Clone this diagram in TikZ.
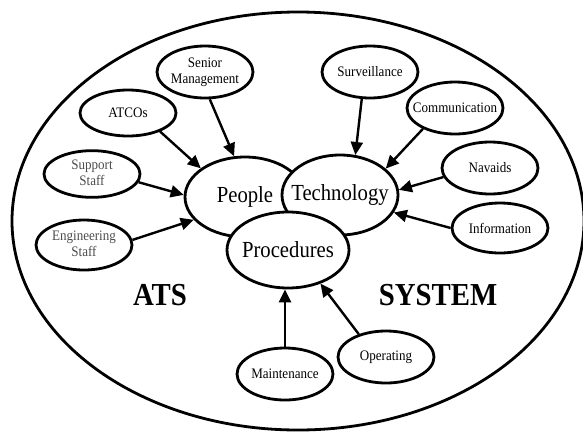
\documentclass[tikz,border=0pt]{standalone}
\usepackage{fontspec}
\setmainfont[FakeStretch=0.9]{Liberation Serif}
\usetikzlibrary{shapes.geometric,arrows.meta}

% centred label of zero width, so the ellipse keeps its own size
\newcommand{\lbl}[1]{\makebox[0pt]{#1}}
\newcommand{\twolbl}[2]{\makebox[0pt]{\begin{tabular}{@{}c@{}}#1\\#2\end{tabular}}}

\begin{document}
\begin{tikzpicture}[x=1pt,y=-1pt,
  oval/.style={ellipse,draw,line width=2.8pt,fill=white,inner sep=0pt},
  item/.style={oval,minimum width=96pt,minimum height=52pt,
    font=\fontsize{14.5}{16.5}\selectfont},
  core/.style={oval,font=\fontsize{23}{26}\selectfont},
  feed/.style={line width=2.4pt,-{Triangle[length=13pt,width=12pt]}},
  title/.style={font=\bfseries\fontsize{32}{36}\selectfont}]

\useasboundingbox (0,0) rectangle (583,432);

% the whole ATS system
\node[oval,minimum width=572pt,minimum height=418pt] (ats) at (298,221) {};

\node[title] (atsword) at (160,295) {ATS};
\node[title] (sysword) at (438,295) {SYSTEM};

% core elements
\node[core,minimum width=120pt,minimum height=80pt] (people) at (245,197) {\lbl{People}};
\node[core,minimum width=116pt,minimum height=80pt] (tech) at (340,195) {\lbl{Technology}};
\node[core,minimum width=122pt,minimum height=76pt] (proc) at (288,250) {\lbl{Procedures}};

% people
\node[item] (sm) at (205,72) {\twolbl{Senior}{Management}};
\node[item,minimum height=46pt] (atco) at (128,113) {\lbl{ATCOs}};
\node[item,minimum height=46pt,text=black!70] (supp) at (92,174) {\twolbl{Support}{Staff}};
\node[item,minimum height=50pt,text=black!70] (eng) at (84,245) {\twolbl{Engineering}{Staff}};

% technology
\node[item] (surv) at (370,72) {\lbl{Surveillance}};
\node[item] (comm) at (455,108) {\lbl{Communication}};
\node[item] (nav) at (490,168) {\lbl{Navaids}};
\node[item,minimum height=50pt] (info) at (500,228) {\lbl{Information}};

% procedures
\node[item] (oper) at (386,357) {\lbl{Operating}};
\node[item] (maint) at (285,374) {\lbl{Maintenance}};

% connectors
\draw[feed] (sm.-80) -- (people.105);
\draw[feed] (atco.-30) -- (people.147);
\draw[feed] (supp.-10) -- (people.178);
\draw[feed] (eng.6) -- (people.204);

\draw[feed] (surv.-107) -- (tech.69);
\draw[feed] (comm.-147) -- (tech.30);
\draw[feed] (nav.-169) -- (tech.5);
\draw[feed] (info.180) -- (tech.-18);

\draw[feed] (maint.north) -- (maint.north |- proc.south);
\draw[feed] (oper.140) -- (proc.-46);
\end{tikzpicture}
\end{document}
